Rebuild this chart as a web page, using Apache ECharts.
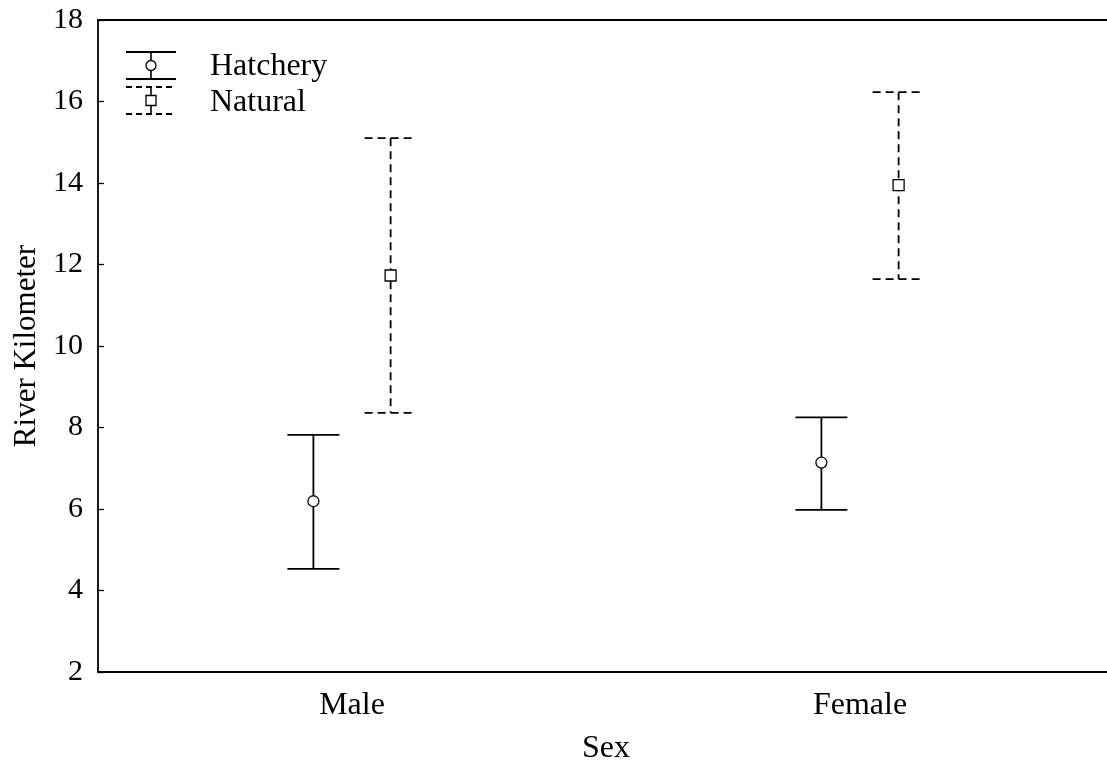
<!DOCTYPE html>
<html>
<head>
<meta charset="utf-8">
<script src="https://cdn.jsdelivr.net/npm/echarts@6/dist/echarts.min.js"></script>
<style>
  html, body { margin: 0; padding: 0; background: #fff; overflow: hidden; }
  #chart { width: 1107px; height: 764px; }
</style>
</head>
<body>
<div id="chart"></div>
<script>
// River kilometer by sex: mean with confidence interval
const categories = ['Male', 'Female'];
const hatcheryMean = [6.19, 7.14];
const hatcheryLow = [4.53, 5.98];
const hatcheryHigh = [7.82, 8.25];
const naturalMean = [11.73, 13.95];
const naturalLow = [8.36, 11.64];
const naturalHigh = [15.1, 16.23];
const yTicks = [2, 4, 6, 8, 10, 12, 14, 16, 18];

const FONT = '"Liberation Serif", "Times New Roman", serif';
const INK = '#000';

function rows(mean, low, high) {
  return categories.map((c, i) => [i, mean[i], low[i], high[i]]);
}

// Error bar with caps and a hollow marker; shift is a fraction of the band width
function makeRenderer(shift, marker, dashed) {
  return function (params, api) {
    const idx = api.value(0);
    const band = api.size([1, 0])[0];
    const mid = api.coord([idx, api.value(1)]);
    const lo = api.coord([idx, api.value(2)]);
    const hi = api.coord([idx, api.value(3)]);
    const x = mid[0] + shift * band;
    const half = 26;
    const style = { stroke: INK, lineWidth: 1.8, lineDash: dashed ? [8, 5] : null, fill: null };
    const children = [
      { type: 'line', shape: { x1: x, y1: hi[1], x2: x, y2: lo[1] }, style: style },
      { type: 'line', shape: { x1: x - half, y1: hi[1], x2: x + half, y2: hi[1] }, style: style },
      { type: 'line', shape: { x1: x - half, y1: lo[1], x2: x + half, y2: lo[1] }, style: style }
    ];
    if (marker === 'circle') {
      children.push({ type: 'circle', shape: { cx: x, cy: mid[1], r: 5.5 },
        style: { fill: '#fff', stroke: INK, lineWidth: 1.3 } });
    } else {
      children.push({ type: 'rect', shape: { x: x - 5.5, y: mid[1] - 5.5, width: 11, height: 11 },
        style: { fill: '#fff', stroke: INK, lineWidth: 1.3 } });
    }
    return { type: 'group', children: children };
  };
}

// Legend glyphs
function legendGlyph(cx, yTop, yBot, marker, dashed) {
  const style = { stroke: INK, lineWidth: 1.8, lineDash: dashed ? [6, 4] : null, fill: null };
  const ym = (yTop + yBot) / 2;
  const items = [
    { type: 'line', shape: { x1: cx - 25, y1: yTop, x2: cx + 25, y2: yTop }, style: style },
    { type: 'line', shape: { x1: cx - 25, y1: yBot, x2: cx + 25, y2: yBot }, style: style },
    { type: 'line', shape: { x1: cx, y1: yTop, x2: cx, y2: yBot }, style: { stroke: INK, lineWidth: 1.6 } }
  ];
  if (marker === 'circle') {
    items.push({ type: 'circle', shape: { cx: cx, cy: ym, r: 5 }, style: { fill: '#fff', stroke: INK, lineWidth: 1.3 } });
  } else {
    items.push({ type: 'rect', shape: { x: cx - 5, y: ym - 5, width: 10, height: 10 }, style: { fill: '#fff', stroke: INK, lineWidth: 1.3 } });
  }
  return items;
}

const chart = echarts.init(document.getElementById('chart'), null, { renderer: 'canvas' });
chart.setOption({
  backgroundColor: '#fff',
  animation: false,
  grid: { left: 98, top: 20, width: 1016, height: 652, outerBoundsMode: 'none', containLabel: false },
  xAxis: [{
    type: 'category',
    data: categories,
    boundaryGap: true,
    name: 'Sex',
    nameLocation: 'middle',
    nameGap: 61,
    nameTextStyle: { fontFamily: FONT, fontSize: 32, color: INK },
    axisLine: { lineStyle: { color: INK, width: 1.8 } },
    axisTick: { inside: true, length: 6, alignWithLabel: true, lineStyle: { color: INK, width: 1.3 } },
    axisLabel: { margin: 18, fontFamily: FONT, fontSize: 32, color: INK },
    splitLine: { show: false }
  }, {
    type: 'category',
    data: categories,
    position: 'top',
    axisLine: { onZero: false, lineStyle: { color: INK, width: 1.8 } },
    axisTick: { show: false },
    axisLabel: { show: false }
  }],
  yAxis: {
    type: 'value',
    min: 2,
    max: 18,
    interval: 2,
    name: 'River Kilometer',
    nameLocation: 'middle',
    nameGap: 53,
    nameRotate: 90,
    nameTextStyle: { fontFamily: FONT, fontSize: 31, color: INK },
    axisLine: { show: true, lineStyle: { color: INK, width: 1.8 } },
    axisTick: { show: true, inside: true, length: 6, lineStyle: { color: INK, width: 1.3 } },
    axisLabel: { margin: 15, fontFamily: FONT, fontSize: 30, color: INK,
      formatter: v => (yTicks.indexOf(v) >= 0 ? String(v) : '') },
    splitLine: { show: false }
  },
  series: [{
    name: 'Hatchery',
    type: 'custom',
    renderItem: makeRenderer(-0.076, 'circle', false),
    encode: { x: 0, y: [1, 2, 3] },
    data: rows(hatcheryMean, hatcheryLow, hatcheryHigh),
    z: 3
  }, {
    name: 'Natural',
    type: 'custom',
    renderItem: makeRenderer(0.076, 'square', true),
    encode: { x: 0, y: [1, 2, 3] },
    data: rows(naturalMean, naturalLow, naturalHigh),
    z: 3
  }],
  graphic: [{
    type: 'group',
    children: [].concat(
      legendGlyph(151, 52, 79, 'circle', false),
      legendGlyph(151, 87, 114, 'square', true),
      [
        { type: 'text', x: 210, y: 67, style: { text: 'Hatchery', font: '32px ' + FONT, fill: INK, textVerticalAlign: 'middle' } },
        { type: 'text', x: 210, y: 103, style: { text: 'Natural', font: '32px ' + FONT, fill: INK, textVerticalAlign: 'middle' } }
      ]
    )
  }]
});
</script>
</body>
</html>
